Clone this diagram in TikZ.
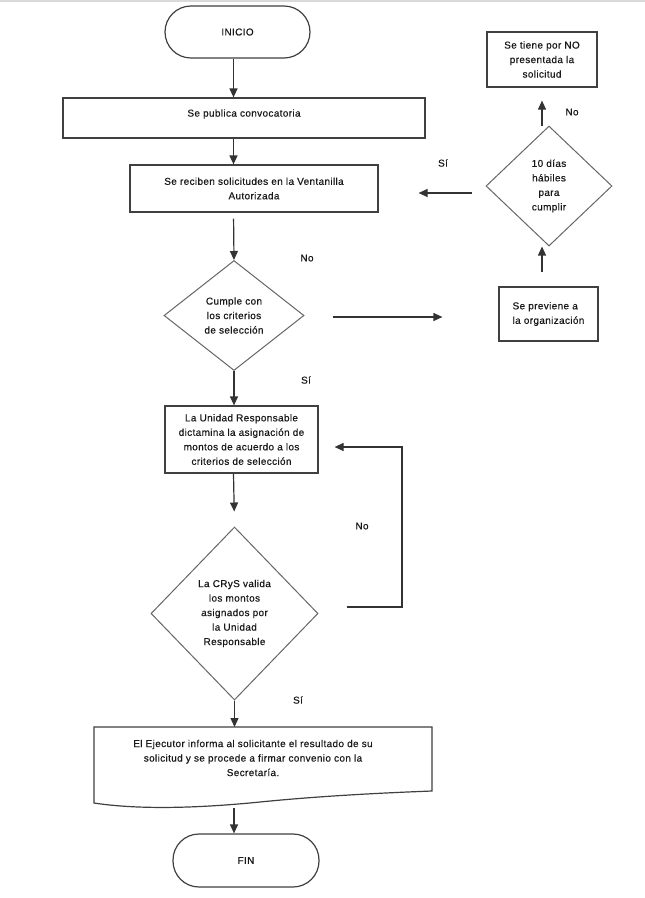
\documentclass[tikz,border=0pt]{standalone}
\usepackage{fontspec}
\setmainfont{Liberation Sans}[LetterSpace=3.5,FakeBold=0.4]
\usetikzlibrary{arrows.meta,shapes.geometric}
\begin{document}
\begin{tikzpicture}[x=1pt,y=-1pt,
  every node/.style={font=\fontsize{10}{14.5}\selectfont, text=black!90, align=center, inner sep=0pt},
  outl/.style={draw=black!75, line width=1.2pt},
  box/.style={outl, rectangle},
  term/.style={outl, rectangle, rounded corners=26pt},
  dec/.style={draw=black!60, line width=1pt, diamond},
  arr/.style={draw=black!80, line width=1.2pt, -{Triangle[length=9pt,width=8pt]}}
]
\useasboundingbox (0,0) rectangle (645,898);
\fill[white] (0,0) rectangle (645,898);
\draw[black!15, line width=2pt] (0,1) -- (645,1);

\node[term, minimum width=145pt, minimum height=52pt] (inicio) at (237.5,32) {INICIO};
\node[box, minimum width=362pt, minimum height=40pt, text depth=10pt] (pub) at (244,118) {Se publica convocatoria};
\node[box, minimum width=248pt, minimum height=47pt] (rec) at (254,188.5) {Se reciben solicitudes en la Ventanilla\\Autorizada};
\node[dec, minimum width=140pt, minimum height=110pt] (d1) at (234,315.5) {Cumple con\\los criterios\\de selección};
\node[box, minimum width=99pt, minimum height=54pt, align=left] (prev) at (548.5,314) {Se previene a\\la organización};
\node[dec, minimum width=126pt, minimum height=120pt] (d2) at (549,186) {10 días\\hábiles\\para\\cumplir};
\node[box, minimum width=110pt, minimum height=55pt] (ns) at (542,59.5) {Se tiene por NO\\presentada la\\solicitud};
\node[box, minimum width=153pt, minimum height=67pt] (ur) at (241.5,439.5) {La Unidad Responsable\\dictamina la asignación de\\montos de acuerdo a los\\criterios de selección};
\node[dec, minimum width=167pt, minimum height=173pt] (d3) at (234.5,613.5) {La CRyS valida\\los montos\\asignados por\\la Unidad\\Responsable};
\node (doc) at (253,758) {El Ejecutor informa al solicitante el resultado de su\\solicitud y se procede a firmar convenio con la\\Secretaría.};
\node[term, minimum width=146pt, minimum height=53pt] (fin) at (246,860.5) {FIN};

\node (no1) at (307,258) {No};
\node (si1) at (306,380) {Sí};
\node (si2) at (443,163) {Sí};
\node (no2) at (572,112) {No};
\node (no3) at (362,526) {No};
\node (si3) at (298,700) {Sí};

\coordinate (sp) at (233.5,0);
\coordinate (cx) at (542,0);
\coordinate (ry) at (0,193);
\coordinate (ay) at (0,317);
\coordinate (lp) at (402,607);
\coordinate (lq) at (402,447);
\coordinate (dtl) at (94,727);
\coordinate (dtr) at (432,727);
\coordinate (dbr) at (432,791);
\coordinate (dbl) at (94,803);
\coordinate (dbot) at (234,808);

\draw[outl] (dtl) -- (dtr) -- (dbr) .. controls (380,793) and (320,796) .. (260,802) .. controls (200,808) and (140,810) .. (dbl) -- cycle;

\draw[arr] (inicio.south -| sp) -- (pub.north -| sp);
\draw[arr] (pub.south -| sp) -- (rec.north -| sp);
\draw[arr, shorten <=6pt] (rec.south -| sp) -- (d1.north);
\draw[arr, shorten <=28pt, shorten >=56pt] (d1.east |- ay) -- (prev.west |- ay);
\draw[arr, shorten <=14pt] (prev.north -| cx) -- (d2.south -| cx);
\draw[arr, shorten >=13pt] (d2.north -| cx) -- (ns.south -| cx);
\draw[arr, shorten <=14pt, shorten >=40pt] (d2.west |- ry) -- (rec.east |- ry);
\draw[arr] (d1.south) -- (ur.north -| d1.south);
\draw[arr, shorten >=15pt] (ur.south -| sp) -- (d3.north);
\draw[arr, shorten <=28pt, shorten >=16pt] (d3.east |- lp) -- (lp) -- (lq) -- (ur.east |- lq);
\draw[arr] (d3.south) -- (d3.south |- dtl);
\draw[arr] (dbot) -- (fin.north -| dbot);
\end{tikzpicture}
\end{document}
